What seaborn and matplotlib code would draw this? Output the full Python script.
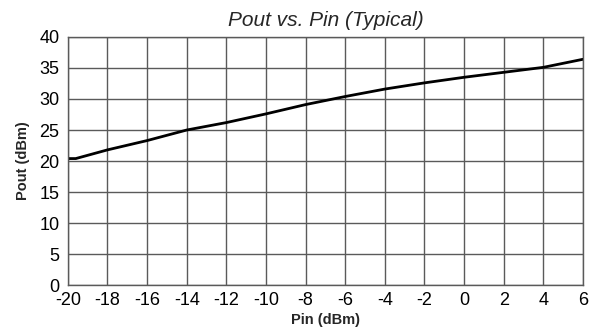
import matplotlib
matplotlib.use("Agg")
import matplotlib.pyplot as plt
import seaborn as sns
import pandas as pd

# values
pin_dbm = [-20, -19.6, -18, -16, -14, -12, -10, -8, -6, -4, -2, 0, 2, 4, 6]
pout_dbm = [20.4, 20.4, 21.8, 23.3, 25.0, 26.2, 27.6, 29.1, 30.4, 31.6, 32.6, 33.5, 34.3, 35.1, 36.4]
x_ticks = list(range(-20, 7, 2))
y_ticks = list(range(0, 41, 5))

sns.set_theme(style="white")
plt.rcParams['font.family'] = ['Liberation Sans', 'DejaVu Sans']

df = pd.DataFrame({"Pin": pin_dbm, "Pout": pout_dbm})

fig, ax = plt.subplots(figsize=(5.9, 3.27), dpi=100)
fig.subplots_adjust(left=0.115, right=0.988, top=0.887, bottom=0.128)

sns.lineplot(data=df, x="Pin", y="Pout", ax=ax, color="black", linewidth=2)

ax.set_xlim(-20, 6)
ax.set_ylim(0, 40)
ax.set_xticks(x_ticks)
ax.set_yticks(y_ticks)
ax.set_xticklabels([str(t) for t in x_ticks])
ax.grid(True, color="#5a5a5a", linewidth=1)
ax.set_axisbelow(True)
for s in ax.spines.values():
    s.set_color("#5a5a5a")
    s.set_linewidth(1)
ax.tick_params(axis="both", labelsize=13, length=0, colors="black")
ax.tick_params(axis="x", pad=5)
ax.tick_params(axis="y", pad=6)

ax.set_title("Pout vs. Pin (Typical)", fontsize=15, style="italic", pad=8)
ax.set_xlabel("Pin (dBm)", fontsize=10.5, fontweight="bold", labelpad=3)
ax.set_ylabel("Pout (dBm)", fontsize=10.5, fontweight="bold", labelpad=7)

plt.savefig("out.png", dpi=100)
